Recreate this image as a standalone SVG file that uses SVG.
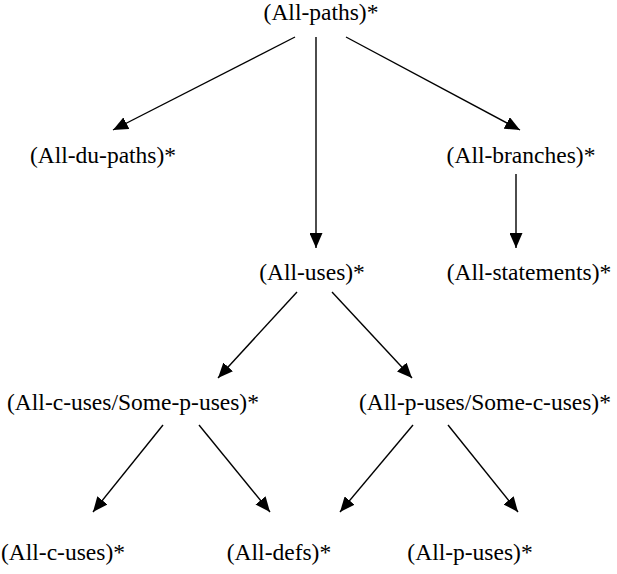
<svg xmlns="http://www.w3.org/2000/svg" width="617" height="574" viewBox="0 0 617 574">
  <style>
    .lbl { font-family: "Liberation Serif", "Times New Roman", serif; font-size: 23.5px; fill: #000; text-anchor: middle; }
    .edge { stroke: #000; stroke-width: 1.4; fill: none; marker-end: url(#head); }
  </style>
  <defs>
    <!-- solid triangular arrowhead, tip at path end -->
    <marker id="head" viewBox="0 0 15 13" refX="15" refY="6.5" markerWidth="15" markerHeight="13" markerUnits="userSpaceOnUse" orient="auto">
      <path d="M0,0 L15,6.5 L0,13 z" fill="#000"/>
    </marker>
  </defs>
  <rect width="617" height="574" fill="#fff"/>

  <g id="connectors">
    <line class="edge" x1="295" y1="37" x2="113" y2="130"/>
    <line class="edge" x1="316" y1="37" x2="316" y2="248"/>
    <line class="edge" x1="346" y1="37" x2="520" y2="130"/>
    <line class="edge" x1="516" y1="174" x2="516" y2="248"/>
    <line class="edge" x1="297" y1="292" x2="218" y2="378"/>
    <line class="edge" x1="332" y1="292" x2="412" y2="378"/>
    <line class="edge" x1="163" y1="425" x2="93" y2="512"/>
    <line class="edge" x1="199" y1="425" x2="270" y2="512"/>
    <line class="edge" x1="413" y1="425" x2="340" y2="512"/>
    <line class="edge" x1="448" y1="425" x2="518" y2="512"/>
  </g>

  <g id="n-all-paths"><text class="lbl" x="321" y="20">(All-paths)*</text></g>
  <g id="n-all-du-paths"><text class="lbl" x="103" y="163">(All-du-paths)*</text></g>
  <g id="n-all-branches"><text class="lbl" x="521" y="163">(All-branches)*</text></g>
  <g id="n-all-uses"><text class="lbl" x="312" y="280">(All-uses)*</text></g>
  <g id="n-all-statements"><text class="lbl" x="529" y="280">(All-statements)*</text></g>
  <g id="n-all-c-uses-some-p-uses"><text class="lbl" x="133" y="410">(All-c-uses/Some-p-uses)*</text></g>
  <g id="n-all-p-uses-some-c-uses"><text class="lbl" x="485" y="410">(All-p-uses/Some-c-uses)*</text></g>
  <g id="n-all-c-uses"><text class="lbl" x="63" y="560">(All-c-uses)*</text></g>
  <g id="n-all-defs"><text class="lbl" x="279" y="560">(All-defs)*</text></g>
  <g id="n-all-p-uses"><text class="lbl" x="470" y="560">(All-p-uses)*</text></g>
</svg>
